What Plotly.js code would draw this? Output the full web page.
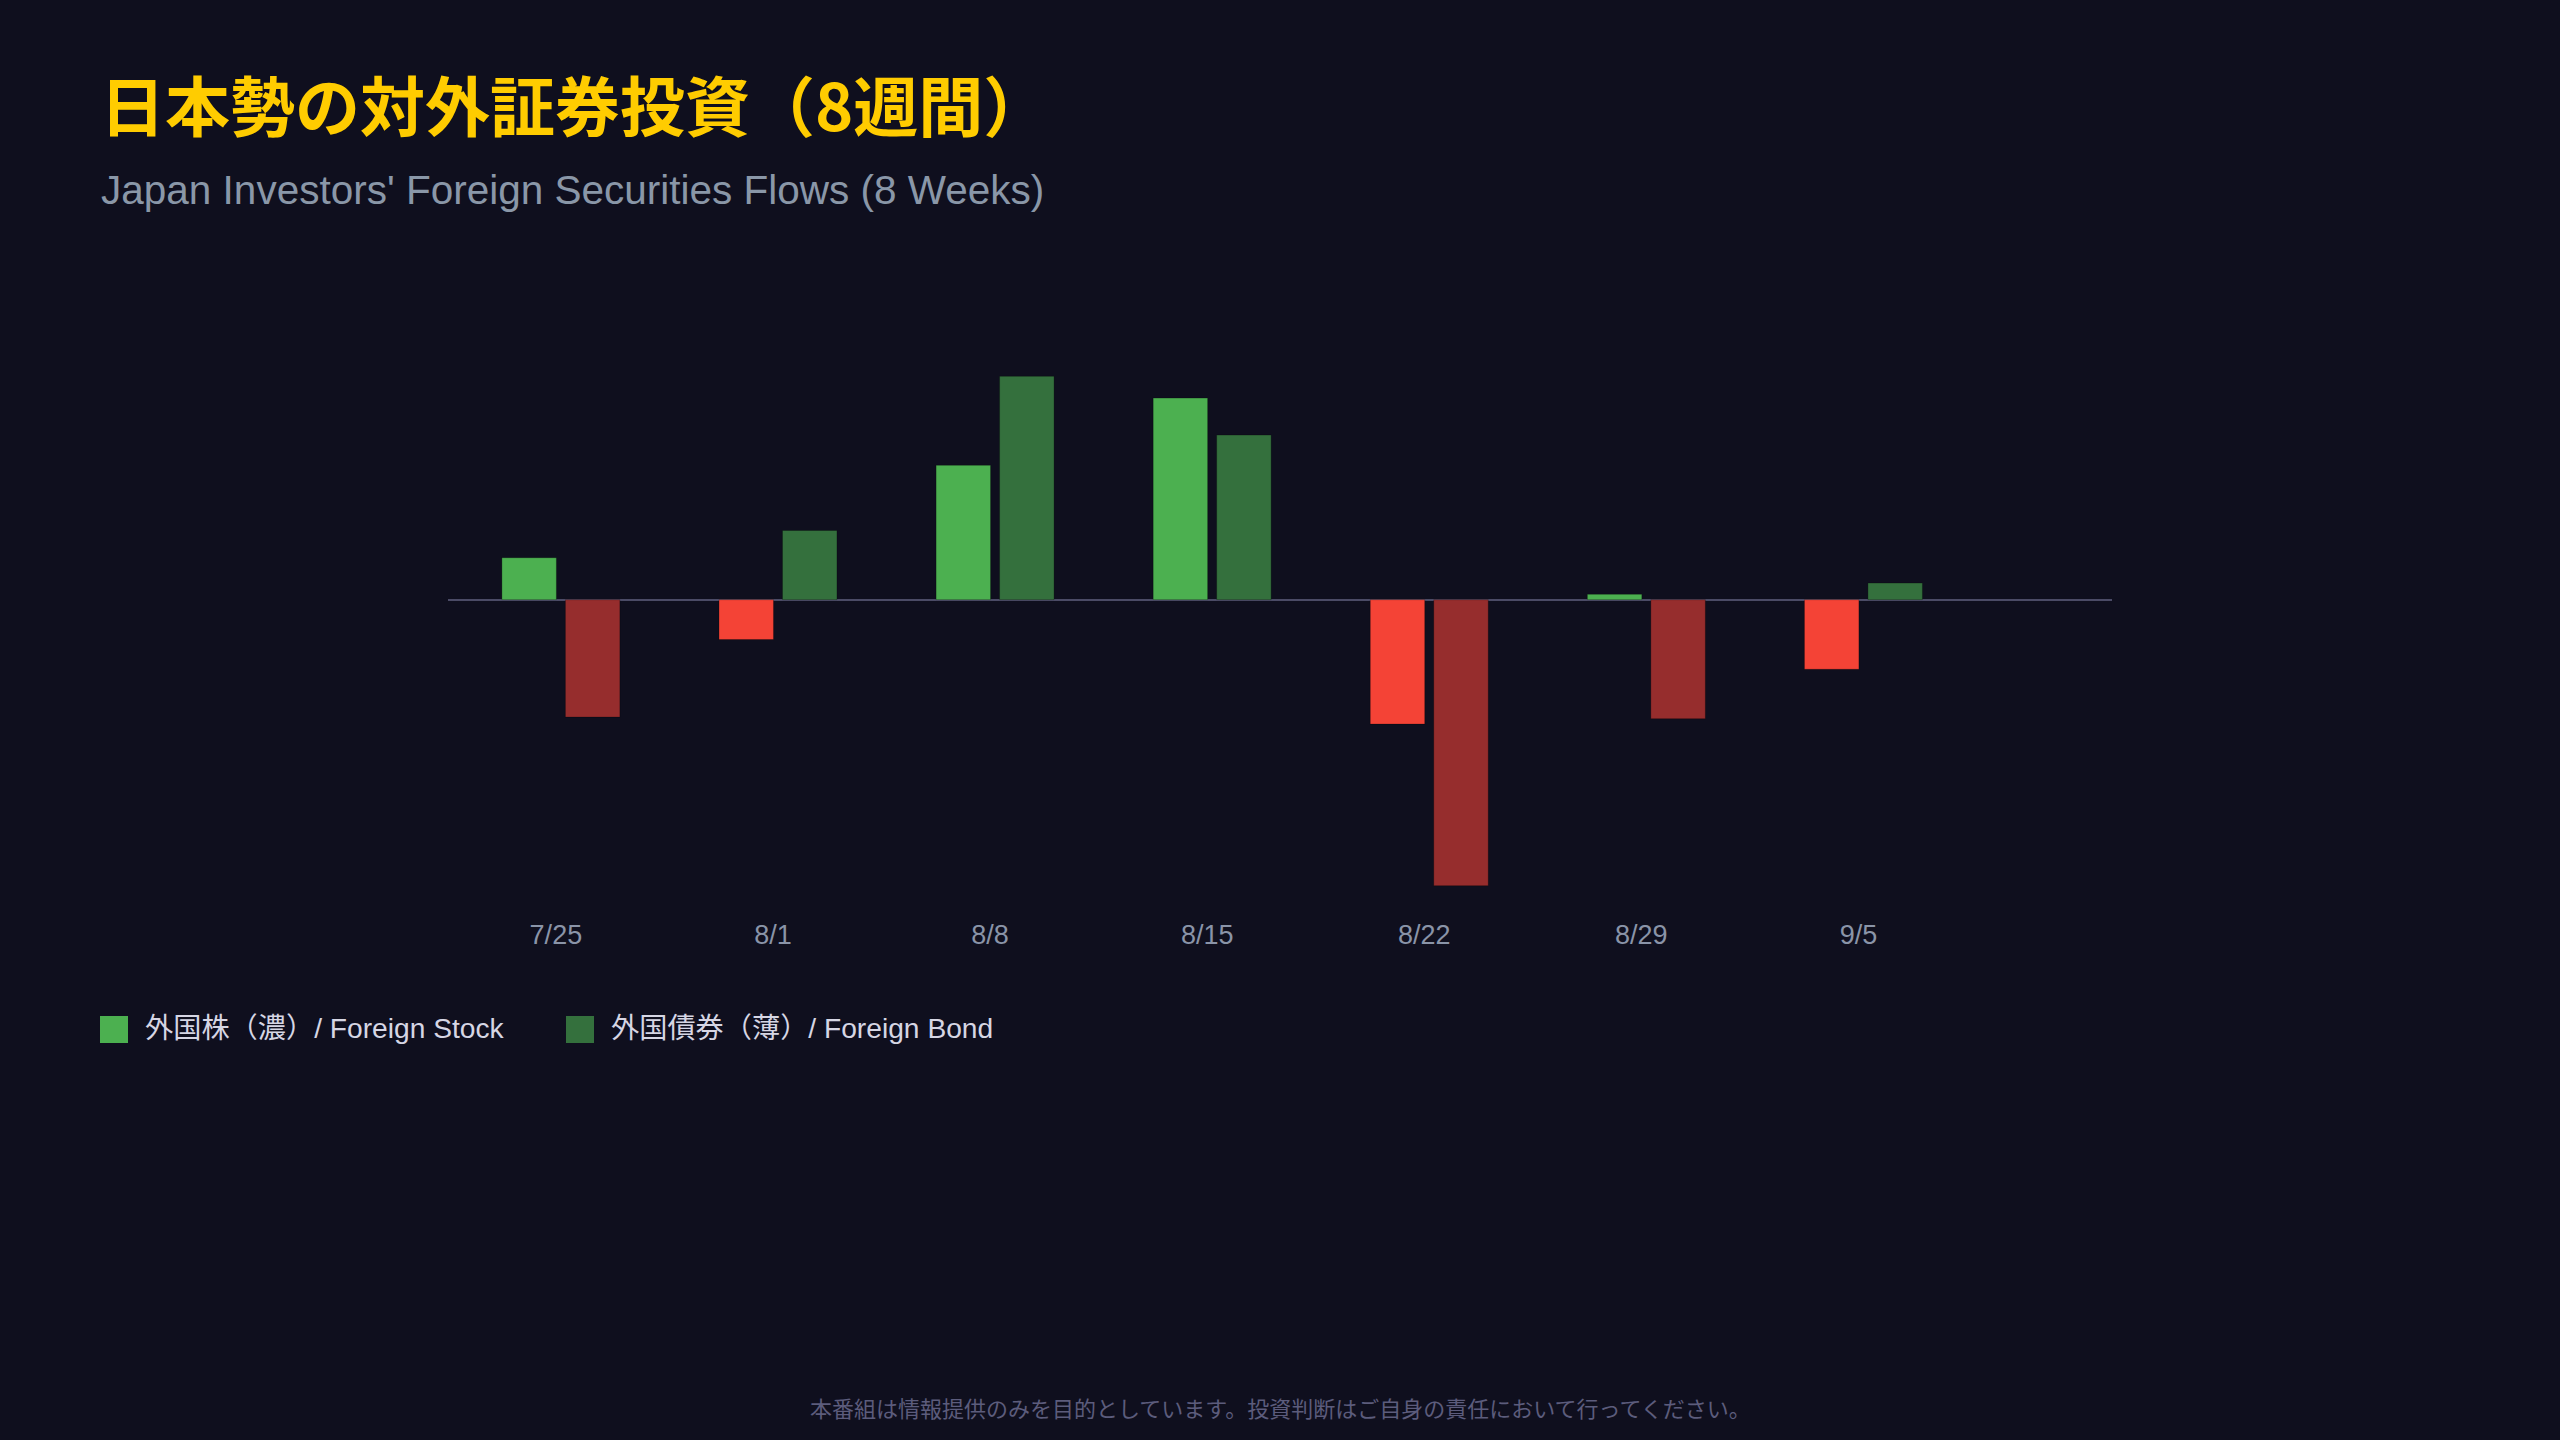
<!DOCTYPE html>
<html>
<head>
<meta charset="utf-8">
<script src="https://cdn.plot.ly/plotly-3.0.1.min.js"></script>
<style>
  html, body { margin: 0; padding: 0; background: #0f0f1e; }
  #plot { width: 2560px; height: 1440px; }
</style>
</head>
<body>
<div id="plot"></div>
<script>
// weekly flows (100m yen)
var weeks = ["7/25", "8/1", "8/8", "8/15", "8/22", "8/29", "9/5"];
var stockFlows = [2100, -1990, 6720, 10080, -6220, 270, -3480];
var bondFlows = [-5870, 3460, 11170, 8230, -14300, -5950, 830];

var seriesNames = ["外国株（濃）/ Foreign Stock", "外国債券（薄）/ Foreign Bond"];
var posColors = ["#4cb050", "#34703d"];
var negColors = ["#f44336", "#962d2d"];

var W = 2560, H = 1440;
var M = {l: 448, r: 448, t: 340, b: 530};
var plotW = W - M.l - M.r, plotH = H - M.t - M.b;
function px(x) { return (x - M.l) / plotW; }
function py(y) { return (H - M.b - y) / plotH; }

var latinJp = "Liberation Sans, Noto Sans CJK JP";

function barTrace(vals, i) {
    return {
        x: weeks,
        y: vals,
        name: seriesNames[i],
        type: "bar",
        showlegend: false,
        hoverinfo: "x+y+name",
        marker: {
            color: vals.map(v => v >= 0 ? posColors[i] : negColors[i]),
            line: {color: "rgba(0,0,0,0.25)", width: 1}
        }
    };
}

var data = [barTrace(stockFlows, 0), barTrace(bondFlows, 1)];

// legend drawn by hand so the swatches can be big
var legendX = [100, 566];
var shapes = [];
var annotations = [];
seriesNames.forEach(function(name, i) {
    shapes.push({
        type: "rect", xref: "paper", yref: "paper", layer: "above",
        x0: px(legendX[i]), x1: px(legendX[i] + 28),
        y0: py(1043), y1: py(1016),
        fillcolor: posColors[i], line: {width: 0}
    });
    annotations.push({
        text: name, xref: "paper", yref: "paper",
        x: px(legendX[i] + 43), y: py(1028),
        xanchor: "left", yanchor: "middle", showarrow: false,
        font: {family: latinJp, size: 28.2, color: "#d6d6e4"}
    });
});

annotations.push({
    text: "Japan Investors' Foreign Securities Flows (8 Weeks)",
    xref: "paper", yref: "paper", x: px(99), y: py(190),
    xanchor: "left", yanchor: "middle", showarrow: false,
    font: {family: latinJp, size: 40.5, color: "#8a97a8"}
});
annotations.push({
    text: "本番組は情報提供のみを目的としています。投資判断はご自身の責任において行ってください。",
    xref: "paper", yref: "paper", x: 0.5, y: py(1407),
    xanchor: "center", yanchor: "middle", showarrow: false,
    font: {family: "Noto Sans CJK JP", size: 22, color: "#5c5c7c"}
});

var layout = {
    width: W,
    height: H,
    paper_bgcolor: "#0f0f1e",
    plot_bgcolor: "#0f0f1e",
    margin: M,
    barmode: "group",
    bargap: 0.415,
    bargroupgap: 0.142,
    title: {
        text: "<b>日本勢の対外証券投資（8週間）</b>",
        xref: "container", yref: "container",
        x: 100 / W, y: 1 - 108 / H,
        xanchor: "left", yanchor: "middle",
        font: {family: "Noto Sans CJK JP", size: 65, color: "#ffcc00"}
    },
    xaxis: {
        type: "category",
        range: [-0.52, 7.145],
        showgrid: false,
        showline: false,
        ticks: "",
        ticklabelstandoff: 6,
        ticklabelshift: -5,
        tickfont: {family: latinJp, size: 27, color: "#8a94a8"},
        fixedrange: true
    },
    yaxis: {
        range: [-15515, 12985],
        showgrid: false,
        showticklabels: false,
        zeroline: true,
        zerolinecolor: "#4b4b66",
        zerolinewidth: 1.5,
        fixedrange: true
    },
    shapes: shapes,
    annotations: annotations
};

Plotly.newPlot("plot", data, layout, {displayModeBar: false});
</script>
</body>
</html>
